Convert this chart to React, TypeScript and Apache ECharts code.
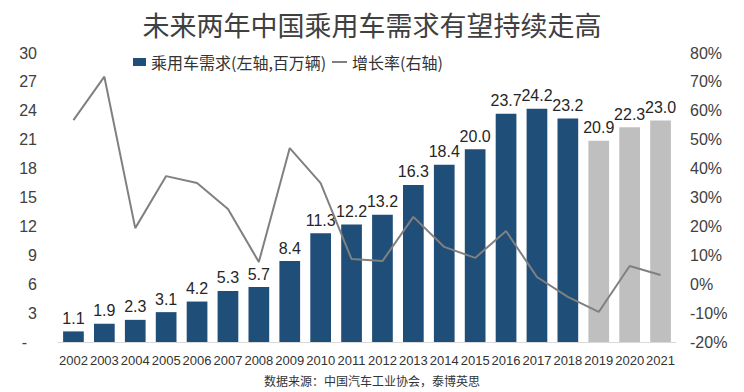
import React, { useEffect, useRef } from "react";
import * as echarts from "echarts";

const years = ["2002","2003","2004","2005","2006","2007","2008","2009","2010","2011","2012","2013","2014","2015","2016","2017","2018","2019","2020","2021"];
const demand = [1.1,1.9,2.3,3.1,4.2,5.3,5.7,8.4,11.3,12.2,13.2,16.3,18.4,20.0,23.7,24.2,23.2,20.9,22.3,23.0];
const forecastYears = ["2019","2020","2021"];
const growth = [56.8,71.8,19.4,37.4,35.0,26.0,7.7,47.1,35.0,8.7,8.0,23.3,12.9,9.1,18.4,2.5,-4.4,-9.6,6.3,3.2];

const titleText = "未来两年中国乘用车需求有望持续走高";
const barName = "乘用车需求(左轴,百万辆)";
const lineName = "增长率(右轴)";
const sourceText = "数据来源：中国汽车工业协会，泰博英思";

const BLUE = "#1F4E79";
const GREY_BAR = "#BFBFBF";
const LINE = "#808080";
const TEXT = "#333333";
const FONT = "'Liberation Sans', 'Noto Sans CJK SC', sans-serif";
const CJK = "'Noto Sans CJK SC', sans-serif";

export default function App() {
  const ref = useRef<HTMLDivElement>(null);
  useEffect(() => {
    if (!ref.current) return;
    const chart = echarts.init(ref.current, null, { renderer: "svg" });
    chart.setOption({
      animation: false,
      backgroundColor: "#ffffff",
      textStyle: { fontFamily: FONT },
      title: {
        text: titleText,
        left: "center",
        top: 6,
        textStyle: { fontFamily: CJK, fontSize: 27, fontWeight: "normal", color: "#404040" },
      },
      legend: [
        {
          data: [{ name: barName, icon: "rect" }],
          left: 133,
          top: 53,
          padding: 0,
          itemWidth: 13,
          itemHeight: 8,
          textStyle: { fontFamily: CJK, fontSize: 16, color: TEXT, lineHeight: 18 },
        },
        {
          data: [{ name: lineName, icon: "rect", itemStyle: { color: LINE } }],
          left: 332,
          top: 53,
          padding: 0,
          itemWidth: 15,
          itemHeight: 2,
          textStyle: { fontFamily: CJK, fontSize: 16, color: TEXT, lineHeight: 18 },
        },
      ],
      graphic: [
        {
          type: "text",
          left: "center",
          top: 374,
          style: { text: sourceText, font: `12px ${CJK}`, fill: TEXT },
        },
      ],
      grid: { left: 58, right: 68, top: 53, bottom: 50, containLabel: false },
      xAxis: {
        type: "category",
        data: years,
        axisLine: { lineStyle: { color: "#D9D9D9", width: 1 } },
        axisTick: { show: false },
        axisLabel: { interval: 0, fontSize: 13, color: TEXT, margin: 12, fontFamily: FONT },
      },
      yAxis: [
        {
          type: "value",
          min: 0,
          max: 30,
          interval: 3,
          splitLine: { show: false },
          axisLine: { show: false },
          axisTick: { show: false },
          axisLabel: {
            fontSize: 16,
            color: "#404040",
            margin: 21,
            formatter: (v: number) => (v === 0 ? "{d|-}" : String(v)),
            rich: { d: { fontSize: 16, color: "#404040", padding: [0, 10, 0, 0] } },
          },
        },
        {
          type: "value",
          min: -20,
          max: 80,
          interval: 10,
          splitLine: { show: false },
          axisLine: { show: false },
          axisTick: { show: false },
          axisLabel: { fontSize: 16, color: "#404040", margin: 14, formatter: (v: number) => `${v}%` },
        },
      ],
      series: [
        {
          name: barName,
          type: "bar",
          yAxisIndex: 0,
          barWidth: "67%",
          itemStyle: { color: BLUE },
          data: demand.map((v, i) =>
            forecastYears.includes(years[i]) ? { value: v, itemStyle: { color: GREY_BAR } } : v
          ),
          label: {
            show: true,
            position: "top",
            distance: 5,
            fontSize: 16,
            color: "#262626",
            fontFamily: FONT,
            formatter: (p: any) => Number(p.value).toFixed(1),
          },
        },
        {
          name: lineName,
          type: "line",
          yAxisIndex: 1,
          symbol: "none",
          z: 3,
          lineStyle: { color: LINE, width: 2 },
          itemStyle: { color: LINE },
          data: growth,
        },
      ],
    });
    return () => chart.dispose();
  }, []);
  return <div ref={ref} style={{ position: "fixed", left: 0, top: 0, width: 744, height: 392 }} />;
}
